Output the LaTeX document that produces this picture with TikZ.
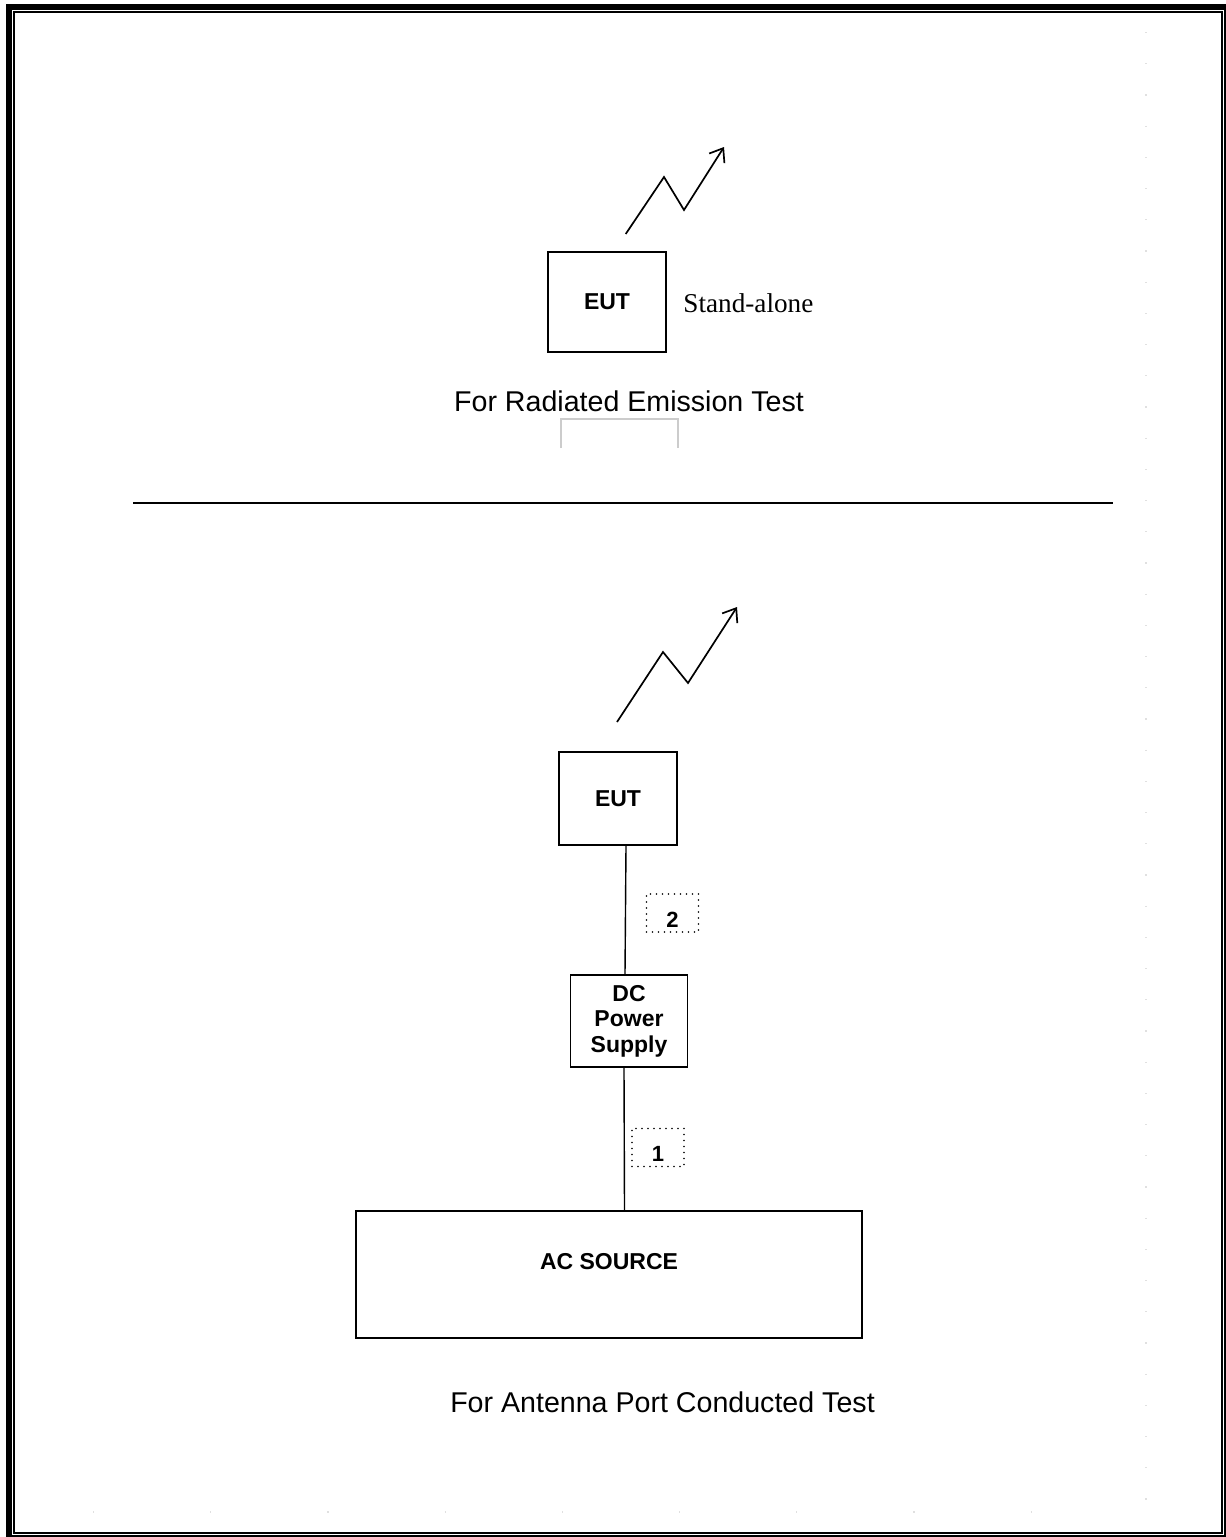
\documentclass[tikz,border=0pt]{standalone}
\usepackage{fontspec}
\setmainfont{Liberation Sans}
\newfontfamily\timesfont{Liberation Serif}
\usetikzlibrary{arrows.meta}

\begin{document}
\begin{tikzpicture}[
  x=0.5pt, y=-0.5pt,
  every node/.style={inner sep=0pt},
  box/.style={draw, line width=0.8pt, align=center,
    font=\bfseries\fontsize{11.5}{12.8}\selectfont},
  tag/.style={draw, line width=0.9pt, line cap=round, dash pattern=on 0pt off 3pt,
    minimum width=26pt, minimum height=19pt, text height=14pt, text depth=0pt,
    font=\bfseries\fontsize{11}{13}\selectfont},
  caption/.style={font=\fontsize{14.3}{16}\selectfont},
  wire/.style={line width=0.7pt},
  zigzag/.style={line width=0.85pt, -{Straight Barb[length=6pt,width=9pt]}}
]
\useasboundingbox (0,0) rectangle (1226,1537);

% page frame
\draw[line width=3pt] (8.5,6.5) rectangle (1227,1538);
\draw[line width=1pt] (14,12) rectangle (1222,1533);
\draw[black!12, line width=0.6pt, dash pattern=on 0.6pt off 15pt] (1146,32) -- (1146,1500);
\draw[black!12, line width=0.6pt, dash pattern=on 0.6pt off 58pt] (93,1512) -- (1146,1512);

% radiated emission
\node[box, minimum width=59pt, minimum height=50pt] (eut1) at (607,302) {EUT};
\node[anchor=west, font=\timesfont\fontsize{13.6}{15}\selectfont] (alone) at (683,303) {Stand-alone};
\draw[zigzag] (625.7,234) -- (664,177) -- (684,210) -- (724,147);
\node[caption] (radiated) at (629,401) {For Radiated Emission Test};
\draw[black!20, line width=0.6pt] (561,448) -- (561,419) -- (678,419) -- (678,448);

\draw[line width=0.7pt] (133,503) -- (1113,503);

% antenna port conducted
\draw[zigzag] (617,722) -- (663,652) -- (688,683) -- (737,607);
\node[box, minimum width=59pt, minimum height=46.5pt] (eut2) at (618,798.5) {EUT};
\node[tag] (cable2) at (672.5,913) {2};
\node[box, minimum width=58.5pt, minimum height=46pt] (dc) at (629,1021) {DC\\Power\\Supply};
\node[tag] (cable1) at (658,1147.5) {1};
\node[box, minimum width=253pt, minimum height=63.5pt, text height=9pt, text depth=14.3pt]
  (ac) at (609,1274.5) {AC SOURCE};
\node[caption] (conducted) at (662.5,1402) {For Antenna Port Conducted Test};

\draw[wire] ([xshift=4pt]eut2.south) -- ([xshift=-2pt]dc.north);
\draw[wire] ([xshift=-2.5pt]dc.south) -- ([xshift=7.75pt]ac.north);
\end{tikzpicture}
\end{document}
